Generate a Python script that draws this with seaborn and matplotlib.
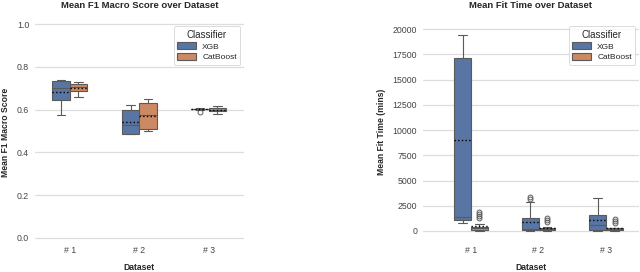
import pandas as pd
import matplotlib
matplotlib.use('Agg')
import matplotlib.pyplot as plt
import seaborn as sns

# Category labels
datasets = ['# 1', '# 2', '# 3']
classifiers = ['XGB', 'CatBoost']

# F1 macro scores per dataset / classifier
f1_xgb_1 = [0.575, 0.64, 0.65, 0.70, 0.73, 0.736, 0.737]
f1_cat_1 = [0.66, 0.68, 0.69, 0.705, 0.72, 0.724, 0.727]
f1_xgb_2 = [0.485, 0.485, 0.488, 0.53, 0.595, 0.605, 0.623]
f1_cat_2 = [0.50, 0.508, 0.515, 0.573, 0.625, 0.635, 0.648]
f1_xgb_3 = [0.59, 0.60, 0.602, 0.603, 0.604, 0.605, 0.607]
f1_cat_3 = [0.578, 0.59, 0.594, 0.60, 0.608, 0.612, 0.615]

# Fit times (mins) per dataset / classifier
ft_xgb_1 = [800, 900, 1000, 1050, 1200, 1300, 1400, 17000, 17100, 17100,
            19300, 19400, 19400]
ft_cat_1 = [40, 60, 80, 90, 95, 100, 150, 200, 230, 250, 260, 280, 300, 320,
            340, 350, 700, 1250, 1450, 1650, 1850]
ft_xgb_2 = [30, 50, 70, 90, 100, 120, 140, 160, 180, 190, 200, 400, 600, 800,
            1000, 1250, 1600, 2000, 2900, 3150, 3350]
ft_cat_2 = [20, 40, 60, 70, 75, 80, 100, 120, 150, 170, 180, 200, 210, 220,
            240, 250, 300, 350, 850, 1050, 1250]
ft_xgb_3 = [40, 50, 60, 80, 90, 100, 200, 300, 400, 500, 600, 800, 1000, 1200,
            1400, 1600, 2000, 2400, 2800, 3000, 3250]
ft_cat_3 = [20, 40, 60, 70, 75, 80, 100, 120, 150, 170, 180, 200, 210, 220,
            240, 250, 280, 320, 800, 1000, 1200]


def to_long(groups, value_name):
    rows = []
    for (ds, clf), vals in groups.items():
        for v in vals:
            rows.append({'Dataset': ds, 'Classifier': clf, value_name: v})
    return pd.DataFrame(rows)


f1_df = to_long({('# 1', 'XGB'): f1_xgb_1, ('# 1', 'CatBoost'): f1_cat_1,
                 ('# 2', 'XGB'): f1_xgb_2, ('# 2', 'CatBoost'): f1_cat_2,
                 ('# 3', 'XGB'): f1_xgb_3, ('# 3', 'CatBoost'): f1_cat_3},
                'Mean F1 Macro Score')
ft_df = to_long({('# 1', 'XGB'): ft_xgb_1, ('# 1', 'CatBoost'): ft_cat_1,
                 ('# 2', 'XGB'): ft_xgb_2, ('# 2', 'CatBoost'): ft_cat_2,
                 ('# 3', 'XGB'): ft_xgb_3, ('# 3', 'CatBoost'): ft_cat_3},
                'Mean Fit Time (mins)')

sns.set_theme(style='whitegrid')
plt.rcParams['font.family'] = ['Liberation Sans', 'DejaVu Sans']

fig = plt.figure(figsize=(6.4, 2.72), dpi=100)
ax1 = fig.add_axes([0.0547, 0.114, 0.3258, 0.8014])
ax2 = fig.add_axes([0.661, 0.114, 0.3367, 0.8014])

box_kw = dict(x='Dataset', hue='Classifier', order=datasets, hue_order=classifiers,
              width=0.5, gap=0, linewidth=0.8, linecolor='#5a5a5a',
              showmeans=True, meanline=True,
              meanprops=dict(color='black', linestyle=':', linewidth=1),
              flierprops=dict(marker='o', markerfacecolor='none',
                              markeredgecolor='#5a5a5a', markersize=3.5,
                              markeredgewidth=0.7))

sns.boxplot(data=f1_df, y='Mean F1 Macro Score', ax=ax1, **box_kw)
sns.boxplot(data=ft_df, y='Mean Fit Time (mins)', ax=ax2, **box_kw)

ax1.set_ylim(-0.014, 1.005)
ax1.set_yticks([0.0, 0.2, 0.4, 0.6, 0.8, 1.0])
ax2.set_ylim(-990, 20600)
ax2.set_yticks(range(0, 20001, 2500))
ax2.set_xlim(-0.71, 2.48)

titles = ['Mean F1 Macro Score over Dataset', 'Mean Fit Time over Dataset']
for ax, title in zip([ax1, ax2], titles):
    ax.set_title(title, fontsize=6.8, fontweight='bold', pad=11)
    ax.set_xlabel('Dataset', fontsize=6.2, fontweight='bold', labelpad=6)
    ax.set_ylabel(ax.get_ylabel(), fontsize=6.2, fontweight='bold', labelpad=5)
    ax.tick_params(axis='both', length=0, labelsize=6.3, colors='#444444')
    ax.tick_params(axis='x', pad=3.5)
    ax.tick_params(axis='y', pad=4.3)
    ax.grid(axis='y', color='#dddddd', linewidth=0.9)
    ax.grid(axis='x', visible=False)
    sns.despine(ax=ax, left=True, bottom=True)
    leg = ax.legend(title='Classifier', loc='upper right', fontsize=6,
                    title_fontsize=7, borderaxespad=0.4, handlelength=2.2,
                    handleheight=0.9, labelspacing=0.3)
    leg.get_frame().set_linewidth(0.6)

plt.savefig('out.png', dpi=100)
plt.close()
